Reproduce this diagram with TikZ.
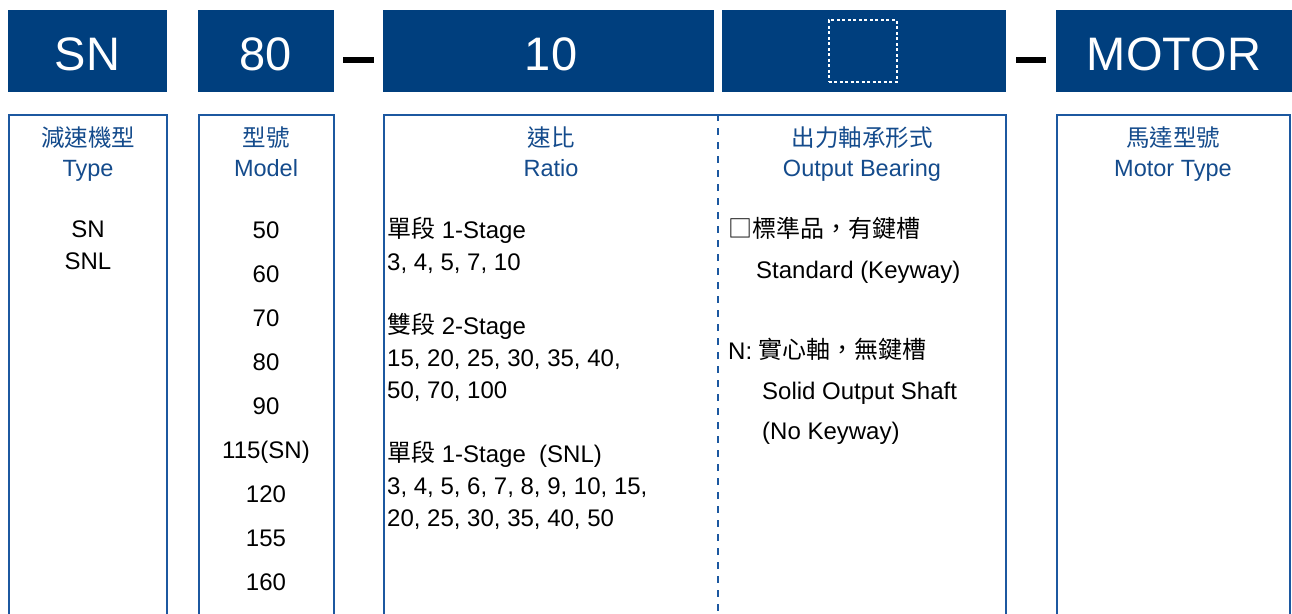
\documentclass[tikz,border=0pt]{standalone}
\usepackage{fontspec}
\setmainfont{Liberation Sans}
\newfontfamily\cjk{Noto Sans CJK TC}
\definecolor{barblue}{RGB}{0,63,126}
\definecolor{frameblue}{RGB}{28,88,160}
\definecolor{headblue}{RGB}{20,75,140}
\newcommand{\zh}[1]{\raisebox{0.5pt}{\cjk #1}}
\begin{document}
\begin{tikzpicture}[x=1pt,y=-1pt,
  barbox/.style={fill=barblue, draw=none, inner sep=0pt, text=white,
    font=\fontsize{47}{50}\selectfont, text height=38pt, text depth=0pt,
    minimum height=82pt},
  panelbox/.style={draw=frameblue, line width=2pt, fill=none, inner sep=0pt,
    anchor=north, minimum height=520pt},
  headtxt/.style={text=headblue, inner sep=0pt, anchor=base,
    font=\fontsize{23.5}{28}\selectfont},
  bodyc/.style={text=black, inner sep=0pt, anchor=base,
    font=\fontsize{24}{28}\selectfont},
  bodyl/.style={text=black, inner sep=0pt, anchor=base west,
    font=\fontsize{24}{28}\selectfont},
  joiner/.style={fill=black, draw=none},
  divider/.style={draw=frameblue, line width=2pt, dash pattern=on 7pt off 7pt},
  blankmark/.style={draw=white, line width=2pt, dash pattern=on 3pt off 2.5pt,
    inner sep=0pt, minimum width=68pt, minimum height=62pt}
]
\useasboundingbox (0,0) rectangle (1292,613);
\fill[white] (0,0) rectangle (1292,613);

% header bars
\node[barbox, minimum width=159pt] (b1) at (87.5,51) {SN};
\node[barbox, minimum width=136pt] (b2) at (266,51) {80};
\node[barbox, minimum width=331pt] (b3) at (548.5,51) {\hspace*{5pt}10};
\node[barbox, minimum width=284pt] (b4) at (864,51) {};
\node[barbox, minimum width=236pt] (b5) at (1174,51) {MOTOR};
\node[blankmark] (blank) at (862.5,51) {};

% joining dashes
\fill[joiner] (343,57) rectangle (374,63);
\fill[joiner] (1016,57) rectangle (1046,63);

% panels
\node[panelbox, minimum width=158pt] (p1) at (88,114) {};
\node[panelbox, minimum width=135pt] (p2) at (266,114) {};
\node[panelbox, minimum width=622pt] (p3) at (694.5,114) {};
\node[panelbox, minimum width=233pt] (p4) at (1173,114) {};
\draw[divider] (718,114) -- (718,640);

% panel headings
\node[headtxt] (h1a) at (88,146) {\cjk 減速機型};
\node[headtxt] (h1b) at (88,176) {Type};
\node[headtxt] (h2a) at (266,146) {\cjk 型號};
\node[headtxt] (h2b) at (266,176) {Model};
\node[headtxt] (h3a) at (551,146) {\cjk 速比};
\node[headtxt] (h3b) at (551,176) {Ratio};
\node[headtxt] (h4a) at (862,146) {\cjk 出力軸承形式};
\node[headtxt] (h4b) at (862,176) {Output Bearing};
\node[headtxt] (h5a) at (1173,146) {\cjk 馬達型號};
\node[headtxt] (h5b) at (1173,176) {Motor Type};

% type column
\node[bodyc] (t1) at (88,237.5) {SN};
\node[bodyc] (t2) at (88,269.5) {SNL};

% model column
\foreach \t [count=\i] in {50,60,70,80,90,115(SN),120,155,160}
  \node[bodyc] (m\i) at (266,{194+44*\i}) {\t};

% ratio column
\node[bodyl] (r1) at (387,238) {\zh{單段} 1-Stage};
\node[bodyl] (r2) at (387,270) {3, 4, 5, 7, 10};
\node[bodyl] (r3) at (387,334) {\zh{雙段} 2-Stage};
\node[bodyl] (r4) at (387,366) {15, 20, 25, 30, 35, 40,};
\node[bodyl] (r5) at (387,398) {50, 70, 100};
\node[bodyl] (r6) at (387,462) {\zh{單段} 1-Stage\ \ (SNL)};
\node[bodyl] (r7) at (387,494) {3, 4, 5, 6, 7, 8, 9, 10, 15,};
\node[bodyl] (r8) at (387,526) {20, 25, 30, 35, 40, 50};

% output bearing column
\node[bodyl] (o1) at (728,238) {\zh{□標準品，有鍵槽}};
\node[bodyl] (o2) at (756,278) {Standard (Keyway)};
\node[bodyl] (o3) at (728,359) {N: \zh{實心軸，無鍵槽}};
\node[bodyl] (o4) at (762,399) {Solid Output Shaft};
\node[bodyl] (o5) at (762,439) {(No Keyway)};
\end{tikzpicture}
\end{document}
